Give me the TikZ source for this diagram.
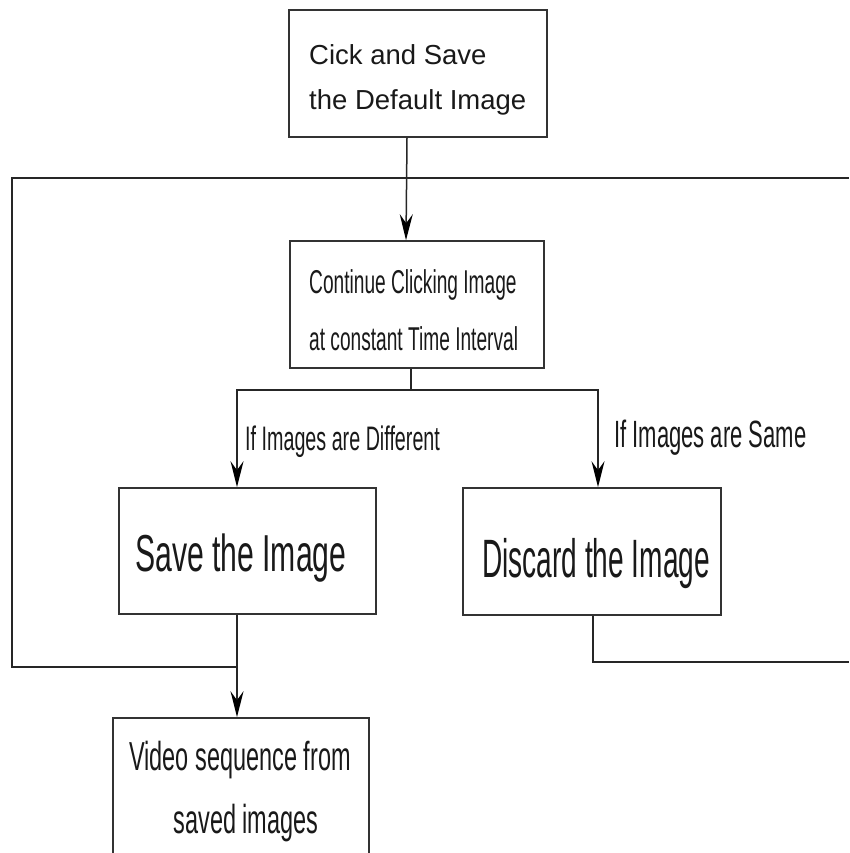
\documentclass[tikz,border=0pt]{standalone}
\usepackage{fontspec}
\setmainfont{Liberation Sans}
\newfontfamily\nf[FakeStretch=0.58]{Liberation Sans}
\newfontfamily\nfd[FakeStretch=0.52]{Liberation Sans}
\usetikzlibrary{arrows.meta}
\begin{document}
\begin{tikzpicture}[x=1pt,y=-1pt,
  box/.style={draw=black!80, line width=1.6pt, fill=none, rectangle, inner sep=0pt},
  txt/.style={inner sep=0pt, text=black!90},
  conn/.style={draw=black!85, line width=1.5pt},
  arr/.style={conn, -{Stealth[length=26pt,width=13pt,inset=9pt,color=black]}}]
\useasboundingbox (0,0) rectangle (849,853);
\clip (0,0) rectangle (849,853);
% boxes
\node[box, minimum width=258pt, minimum height=127pt] (b1) at (418,73.5) {};
\node[box, minimum width=254pt, minimum height=127pt] (b2) at (417,304.5) {};
\node[box, minimum width=257pt, minimum height=126pt] (b3) at (247.5,551) {};
\node[box, minimum width=258pt, minimum height=127pt] (b4) at (592,551.5) {};
\node[box, minimum width=256pt, minimum height=150pt] (b5) at (241,793) {};
% texts
\node[txt, anchor=base west, font=\fontsize{27.5}{30}\selectfont] (t1a) at (309,65) {Cick and Save};
\node[txt, anchor=base west, font=\fontsize{27.5}{30}\selectfont] (t1b) at (309,110) {the Default Image};
\node[txt, anchor=base west, font=\nf\fontsize{33}{36}\selectfont] (t2a) at (309,293) {Continue Clicking Image};
\node[txt, anchor=base west, font=\nf\fontsize{33}{36}\selectfont] (t2b) at (309,350) {at constant Time Interval};
\node[txt, anchor=base west, font=\nf\fontsize{52}{55}\selectfont] (t3) at (135,571) {Save the Image};
\node[txt, anchor=base west, font=\nfd\fontsize{54}{57}\selectfont] (t4) at (482,577) {Discard the Image};
\node[txt, anchor=base west, font=\nf\fontsize{34}{37}\selectfont] (l1) at (245,450) {If Images are Different};
\node[txt, anchor=base west, font=\nf\fontsize{38}{41}\selectfont] (l2) at (614,447) {If Images are Same};
\node[txt, anchor=base, font=\nf\fontsize{40.5}{43}\selectfont] (t5a) at (240,770) {Video sequence from};
\node[txt, anchor=base, font=\nf\fontsize{40.5}{43}\selectfont] (t5b) at (246,833) {saved images};
% loop coordinates
\coordinate (j1) at (237,667);
\coordinate (tl) at (12,178);
\coordinate (redge1) at (849,178);
\coordinate (redge2) at (849,662);
% connectors
\draw[arr] ([xshift=-11pt]b1.south) -- ([xshift=-11pt]b2.north);
\draw[conn] ([xshift=-6pt]b2.south) -- ++(0,21) coordinate (split);
\draw[arr] (split) -| ([xshift=-10.5pt]b3.north);
\draw[arr] (split) -| ([xshift=6pt]b4.north);
\draw[arr] ([xshift=-10.5pt]b3.south) -- ([xshift=-4pt]b5.north);
\draw[conn] (j1) -| (tl) -- (redge1);
\draw[conn] ([xshift=1pt]b4.south) |- (redge2);
\end{tikzpicture}
\end{document}
